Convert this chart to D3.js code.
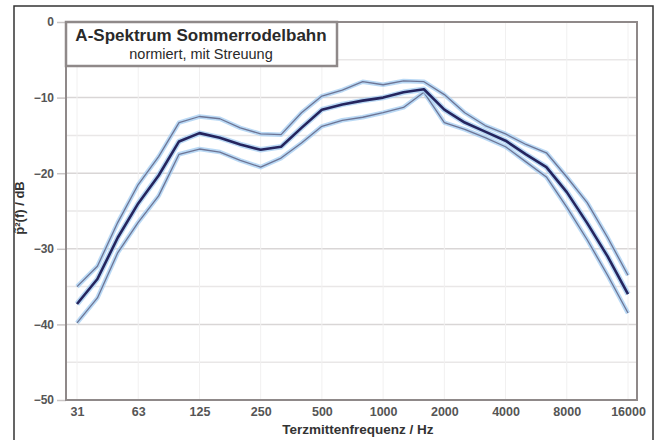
<!DOCTYPE html>
<html>
<head>
<meta charset="utf-8">
<script src="https://cdn.jsdelivr.net/npm/d3@7"></script>
<style>
  body { margin: 0; background: #fff; }
  text { font-family: "Liberation Sans", Arial, sans-serif; }
</style>
</head>
<body>
<script>
// third-octave bands
var bands = ["31.5","40","50","63","80","100","125","160","200","250","315","400","500","630","800",
             "1000","1250","1600","2000","2500","3150","4000","5000","6300","8000","10000","12500","16000"];
var meanLevel = [-37.3,-34.0,-28.5,-24.0,-20.3,-15.8,-14.7,-15.3,-16.2,-16.9,-16.5,-14.0,-11.6,-10.9,-10.4,
                 -10.0,-9.3,-8.9,-11.6,-13.3,-14.5,-15.7,-17.5,-19.2,-22.5,-26.6,-31.0,-36.0];
var upperLevel = [-35.0,-32.3,-26.5,-21.5,-17.8,-13.3,-12.5,-12.8,-14.0,-14.8,-14.9,-12.0,-9.8,-9.0,-7.9,
                  -8.3,-7.8,-7.9,-9.6,-12.0,-13.7,-14.8,-16.2,-17.3,-20.5,-23.9,-28.5,-33.5];
var lowerLevel = [-39.8,-36.5,-30.5,-26.5,-23.0,-17.5,-16.8,-17.2,-18.3,-19.2,-18.0,-16.0,-13.8,-13.0,-12.6,
                  -12.0,-11.3,-9.3,-13.3,-14.2,-15.3,-16.5,-18.5,-20.5,-24.5,-28.8,-33.5,-38.5];
var xTickLabels = {"31.5":"31","63":"63","125":"125","250":"250","500":"500","1000":"1000",
                   "2000":"2000","4000":"4000","8000":"8000","16000":"16000"};
var yTicks = [0,-10,-20,-30,-40,-50];

var w = 663, h = 440;
var pLeft = 66, pRight = 637, pTop = 22, pBottom = 400;

var svg = d3.select("body").append("svg")
  .attr("width", w).attr("height", h);

// outer frame
svg.append("rect")
  .attr("x", 14).attr("y", 6).attr("width", 639).attr("height", 445)
  .attr("fill", "none").attr("stroke", "#333").attr("stroke-width", 1.5);

var x = d3.scalePoint().domain(bands).range([77, 628]);
var y = d3.scaleLinear().domain([-50, 0]).range([pBottom, pTop]);

// gridlines every 5 dB
svg.append("g").selectAll("line")
  .data(d3.range(-45, 1, 5))
  .enter().append("line")
  .attr("x1", pLeft).attr("x2", pRight)
  .attr("y1", d => y(d)).attr("y2", d => y(d))
  .attr("stroke", d => d % 10 == 0 ? "#d9d6d6" : "#e9e7e7")
  .attr("stroke-width", 1.5);

svg.append("g").selectAll("line")
  .data(bands.filter(b => xTickLabels[b]))
  .enter().append("line")
  .attr("x1", d => x(d)).attr("x2", d => x(d))
  .attr("y1", pTop).attr("y2", pBottom)
  .attr("stroke", "#f1f0f0").attr("stroke-width", 1);

// y axis
var yAxis = d3.axisLeft(y).tickValues(yTicks).tickSize(9).tickPadding(3);
var gy = svg.append("g").attr("transform", "translate(" + pLeft + ",0)").call(yAxis);
gy.select(".domain").remove();
gy.selectAll("line").attr("stroke", "#c9c5c5").attr("stroke-width", 1.5);
gy.selectAll("text").attr("font-size", 12).attr("font-weight", "bold").attr("fill", "#555")
  .attr("font-family", "Liberation Sans, Arial, sans-serif");

// x axis
var xAxis = d3.axisBottom(x).tickValues(Object.keys(xTickLabels))
  .tickFormat(d => xTickLabels[d]).tickSize(0).tickPadding(7);
var gx = svg.append("g").attr("transform", "translate(0," + pBottom + ")").call(xAxis);
gx.select(".domain").remove();
gx.selectAll("text").attr("font-size", 12.5).attr("font-weight", "bold").attr("fill", "#555")
  .attr("font-family", "Liberation Sans, Arial, sans-serif");

// plot frame
svg.append("rect")
  .attr("x", pLeft).attr("y", pTop).attr("width", pRight - pLeft).attr("height", pBottom - pTop)
  .attr("fill", "none").attr("stroke", "#8f8989").attr("stroke-width", 2);

// curves
var line = d3.line().x((d, i) => x(bands[i])).y(d => y(d));

function curve(vals, core, coreW, glowW) {
  svg.append("path").datum(vals).attr("d", line)
    .attr("fill", "none").attr("stroke", "#a9d0f3").attr("stroke-width", glowW)
    .attr("stroke-linejoin", "round").attr("opacity", 0.8);
  svg.append("path").datum(vals).attr("d", line)
    .attr("fill", "none").attr("stroke", core).attr("stroke-width", coreW)
    .attr("stroke-linejoin", "round");
}
curve(upperLevel, "#6d7595", 1.3, 4.5);
curve(lowerLevel, "#6d7595", 1.3, 4.5);
curve(meanLevel, "#25255e", 2.6, 5.5);

// title box
svg.append("rect")
  .attr("x", 66).attr("y", 22).attr("width", 271).attr("height", 44)
  .attr("fill", "#fff").attr("stroke", "#8f8989").attr("stroke-width", 2.5);
svg.append("text").attr("x", 201).attr("y", 41).attr("text-anchor", "middle")
  .attr("font-size", 17).attr("font-weight", "bold").attr("fill", "#2a2a2a")
  .text("A-Spektrum Sommerrodelbahn");
svg.append("text").attr("x", 201).attr("y", 59).attr("text-anchor", "middle")
  .attr("font-size", 14.5).attr("fill", "#2a2a2a")
  .text("normiert, mit Streuung");

// axis titles
svg.append("text").attr("x", 358).attr("y", 434).attr("text-anchor", "middle")
  .attr("font-size", 13.5).attr("font-weight", "bold").attr("fill", "#333")
  .text("Terzmittenfrequenz / Hz");
svg.append("text")
  .attr("transform", "translate(24,208) rotate(-90)")
  .attr("text-anchor", "middle")
  .attr("font-size", 13).attr("font-weight", "bold").attr("fill", "#333")
  .text("p̃²(f) / dB");
</script>
</body>
</html>
